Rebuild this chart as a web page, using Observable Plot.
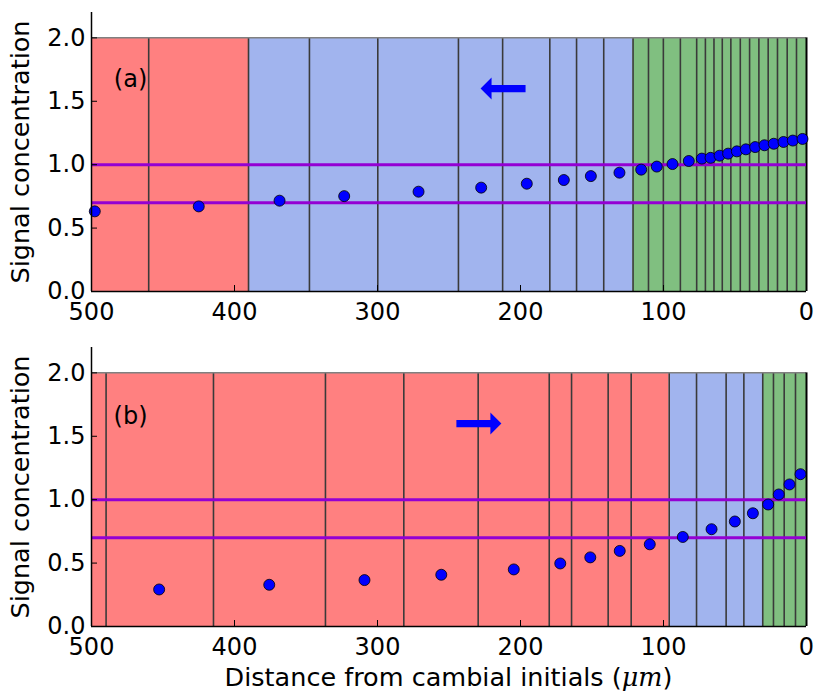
<!DOCTYPE html>
<html>
<head>
<meta charset="utf-8">
<script src="https://cdn.jsdelivr.net/npm/d3@7"></script>
<script src="https://cdn.jsdelivr.net/npm/@observablehq/plot@0.6"></script>
<style>
  html, body { margin: 0; padding: 0; background: white; }
  #xlabel { width: 715px; padding-left: 91px; padding-right: 9px; height: 32px; line-height: 32px;
            text-align: center; font-family: "DejaVu Sans", sans-serif; font-size: 25.5px; color: black; }
  #xlabel i { font-family: "DejaVu Serif", serif; font-style: italic; }
</style>
</head>
<body>
<div id="chart"></div>
<script>
// ---------- data ----------
const xTicks = [500, 400, 300, 200, 100, 0];
const yTicks = [0, 0.5, 1.0, 1.5, 2.0];
const thresholds = [1.0, 0.7];
const yLabel = "Signal concentration";

// Panel (a)
const zonesA = [
  {x1: 500, x2: 390.2, zone: "zone1"},
  {x1: 390.2, x2: 121.3, zone: "zone2"},
  {x1: 121.3, x2: 0, zone: "zone3"}
];
const wallsA = [460, 390.2, 347.6, 299.8, 243.4, 212.5, 179.5, 160.8, 141.8, 121.3, 110.5, 100.1,
  88.2, 76.8, 70.7, 64.7, 58.9, 52.9, 46.3, 39.8, 33.3, 26.8, 20.3, 13.5, 7.0];
const posA = [497.7, 425.0, 368.5, 323.3, 271.3, 227.5, 195.6, 169.7, 150.8, 130.8, 115.6, 104.7, 93.7,
  82.3, 73.2, 67.1, 60.8, 54.8, 48.7, 42.4, 35.9, 29.4, 22.9, 16.1, 9.6, 2.8];
const sigA = [0.632, 0.671, 0.716, 0.752, 0.787, 0.819, 0.850, 0.879, 0.910, 0.937, 0.961, 0.985, 1.005,
  1.029, 1.048, 1.054, 1.071, 1.087, 1.105, 1.121, 1.139, 1.153, 1.165, 1.179, 1.190, 1.203];
const arrowA = [{x: 212.2, y: 1.6, dir: "left"}];
const tagA = [{x: 472.7, y: 1.67, text: "(a)"}];

// Panel (b)
const zonesB = [
  {x1: 500, x2: 96.0, zone: "zone1"},
  {x1: 96.0, x2: 30.6, zone: "zone2"},
  {x1: 30.6, x2: 0, zone: "zone3"}
];
const wallsB = [489.8, 414.7, 336.4, 281.6, 229.6, 179.9, 164.3, 138.7, 122.6, 96.0, 76.9, 56.2, 43.8,
  30.6, 23.1, 15.6, 7.7];
const posB = [452.7, 375.7, 309.1, 255.4, 204.7, 172.2, 151.2, 130.6, 109.6, 86.5, 66.4, 50.1, 37.5,
  26.8, 19.4, 11.9, 4.2];
const sigB = [0.292, 0.329, 0.366, 0.408, 0.450, 0.497, 0.545, 0.596, 0.648, 0.706, 0.767, 0.828, 0.893,
  0.962, 1.041, 1.120, 1.201];
const arrowB = [{x: 229.1, y: 1.6, dir: "right"}];
const tagB = [{x: 472.7, y: 1.655, text: "(b)"}];

// ---------- drawing ----------
function arrowSymbol(dir) {
  const s = dir === "left" ? -1 : 1;
  return {draw(ctx) {
    const L = 22.5, H = 11, T = 3.7, B = 11;
    const tip = s * L, base = s * (L - B), tail = -s * L;
    ctx.moveTo(tip, 0);
    ctx.lineTo(base, -H);
    ctx.lineTo(base, -T);
    ctx.lineTo(tail, -T);
    ctx.lineTo(tail, T);
    ctx.lineTo(base, T);
    ctx.lineTo(base, H);
    ctx.closePath();
  }};
}

const FS = 24;
const LFS = 25.5;
function panel({zones, walls, pos, sig, arrow, tag, height, marginBottom}) {
  const points = pos.map((x, i) => ({x, y: sig[i]}));
  const frameW = 815 - 91 - 9;
  const frameH = height - 12 - marginBottom;
  return Plot.plot({
    width: 815, height,
    marginLeft: 91, marginRight: 9, marginTop: 12, marginBottom,
    x: {domain: [500, 0]},
    y: {domain: [0, 2.2]},
    color: {type: "ordinal", domain: ["zone1", "zone2", "zone3"], range: ["#ff8080", "#a1b4ee", "#80bf80"]},
    style: {fontFamily: "DejaVu Sans, sans-serif", fontSize: FS + "px", color: "black", background: "white", overflow: "visible"},
    marks: [
      Plot.rect(zones, {x1: "x1", x2: "x2", y1: 0, y2: 2.0, fill: "zone"}),
      Plot.ruleX(walls, {x: d => d, y1: 0, y2: 2.0, stroke: "#3a3a3a", strokeWidth: 1.6}),
      Plot.ruleY([2.0], {x1: 500, x2: 0, stroke: "#808080", strokeWidth: 1.5}),
      Plot.ruleX([0], {y1: 0, y2: 2.0, stroke: "black", strokeWidth: 2}),
      Plot.ruleY(thresholds, {stroke: "#9400d3", strokeWidth: 3}),
      Plot.dot(points, {x: "x", y: "y", r: 5.5, fill: "#0000ff", stroke: "black", strokeWidth: 0.8}),
      Plot.dot(arrow, {x: "x", y: "y", r: 10, symbol: arrowSymbol(arrow[0].dir), fill: "#0000ff", stroke: "none"}),
      Plot.text(tag, {x: "x", y: "y", text: "text", fontSize: FS, fill: "black"}),
      Plot.text([yLabel], {frameAnchor: "left", textAnchor: "middle", lineAnchor: "middle", dx: -71, rotate: -90, fontSize: LFS, fill: "black"}),
      Plot.ruleX([500], {stroke: "black", strokeWidth: 1.5}),
      Plot.ruleY([0], {stroke: "black", strokeWidth: 1.5}),
      Plot.ruleX(xTicks, {x: d => d, insetTop: frameH - 6, stroke: "black", strokeWidth: 1}),
      Plot.ruleY(yTicks, {y: d => d, insetRight: frameW - 6, stroke: "black", strokeWidth: 1}),
      Plot.axisX(xTicks, {tickSize: 0, tickPadding: 11, fontSize: FS, label: null}),
      Plot.axisY(yTicks, {tickSize: 0, tickPadding: 6, fontSize: FS, label: null, tickFormat: d => d.toFixed(1)})
    ]
  });
}

const root = document.getElementById("chart");
root.appendChild(panel({zones: zonesA, walls: wallsA, pos: posA, sig: sigA, arrow: arrowA, tag: tagA, height: 335, marginBottom: 44}));
root.appendChild(panel({zones: zonesB, walls: wallsB, pos: posB, sig: sigB, arrow: arrowB, tag: tagB, height: 326, marginBottom: 35}));
const xl = document.createElement("div");
xl.id = "xlabel";
xl.innerHTML = "Distance from cambial initials (<i>μm</i>)";
root.appendChild(xl);
</script>
</body>
</html>
